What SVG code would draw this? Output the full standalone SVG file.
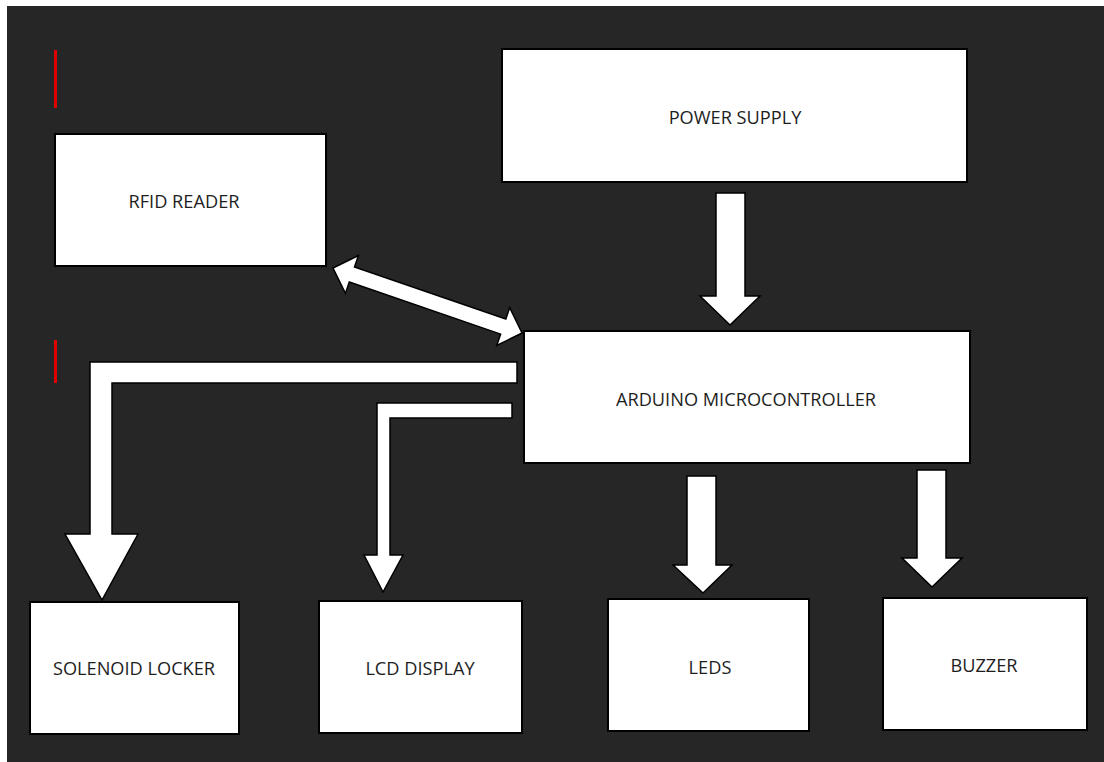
<svg xmlns="http://www.w3.org/2000/svg" width="1104" height="762" viewBox="0 0 1104 762">
<style>
.box{fill:#ffffff;stroke:#000000;stroke-width:2}
.arr{fill:#ffffff;stroke:#000000;stroke-width:1.5;stroke-linejoin:miter}
.lbl{font-family:"Open Sans","Liberation Sans",sans-serif;font-size:18.2px;fill:#1e1e1e;text-anchor:middle}
.red{stroke:#e00000;stroke-width:3}
</style>
<rect x="0" y="0" width="1104" height="762" fill="#ffffff"/>
<rect x="7" y="6" width="1097" height="756" fill="#262626"/>
<line class="red" x1="55.5" y1="50" x2="55.5" y2="108"/>
<line class="red" x1="55.5" y1="340" x2="55.5" y2="383"/>
<g id="connectors">
<polygon class="arr" points="716,193 745,193 745,296 760,296 730,325 700,296 716,296"/>
<polygon class="arr" points="687,476 716,476 716,565 732,565 703,593 673,565 687,565"/>
<polygon class="arr" points="917,470 946,470 946,558 962,558 932,587 902,558 917,558"/>
<polygon class="arr" points="517,362 90,362 90,534 65,534 102,600 138,534 112,534 112,383 517,383"/>
<polygon class="arr" points="512,403 377,403 377,555 364,555 383,592 403,555 390,555 390,418 512,418"/>
<polygon class="arr" transform="translate(333,268) rotate(18.98)" points="0,0 20,-20 20,-8 180,-8 180,-20 200,0 180,20 180,8 20,8 20,20"/>
</g>
<g id="power-supply">
<rect class="box" x="502" y="49" width="465" height="133"/>
<text class="lbl" x="735" y="124">POWER SUPPLY</text>
</g>
<g id="rfid-reader">
<rect class="box" x="55" y="134" width="271" height="132"/>
<text class="lbl" x="184" y="208">RFID READER</text>
</g>
<g id="arduino">
<rect class="box" x="524" y="331" width="446" height="132"/>
<text class="lbl" x="746" y="406">ARDUINO MICROCONTROLLER</text>
</g>
<g id="solenoid-locker">
<rect class="box" x="30" y="602" width="209" height="132"/>
<text class="lbl" x="134" y="675">SOLENOID LOCKER</text>
</g>
<g id="lcd-display">
<rect class="box" x="319" y="601" width="203" height="132"/>
<text class="lbl" x="420" y="675">LCD DISPLAY</text>
</g>
<g id="leds">
<rect class="box" x="608" y="599" width="201" height="132"/>
<text class="lbl" x="710" y="674">LEDS</text>
</g>
<g id="buzzer">
<rect class="box" x="883" y="598" width="204" height="132"/>
<text class="lbl" x="984" y="672">BUZZER</text>
</g>
</svg>
